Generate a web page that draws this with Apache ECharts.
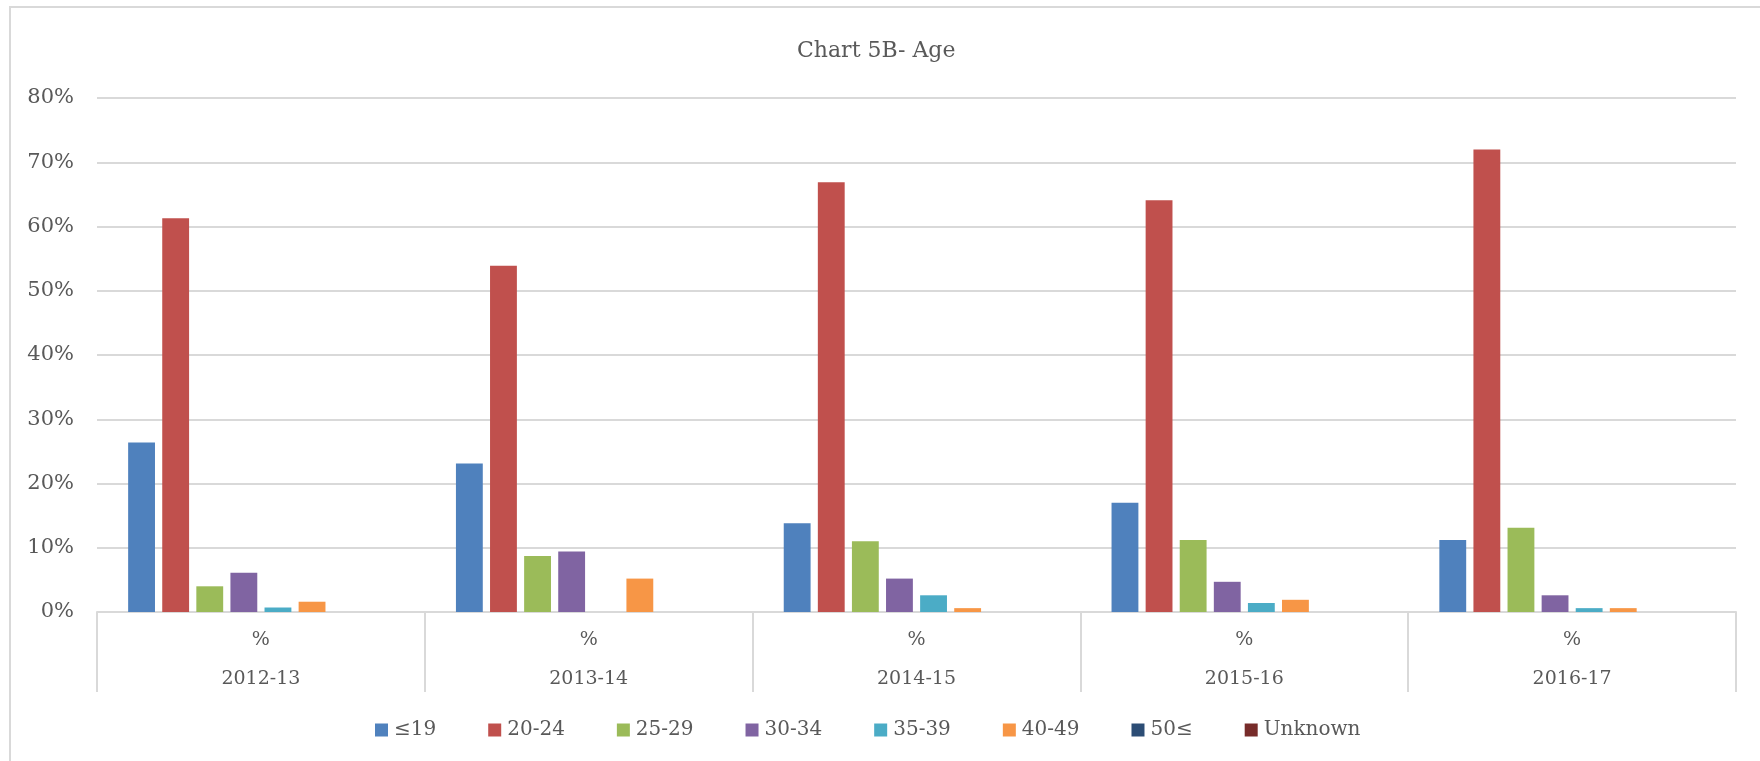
<!DOCTYPE html>
<html>
<head>
<meta charset="utf-8">
<title>Chart 5B- Age</title>
<script src="https://cdn.jsdelivr.net/npm/echarts@6/dist/echarts.min.js"></script>
<style>
    html, body { margin: 0; padding: 0; background: #fff; }
    #chart { width: 1760px; height: 761px; }
</style>
</head>
<body>
<div id="chart"></div>
<script>
// categories (academic years) and age groups
var years = ['2012-13', '2013-14', '2014-15', '2015-16', '2016-17'];
var groups = ['≤19', '20-24', '25-29', '30-34', '35-39', '40-49', '50≤', 'Unknown'];
var yTicks = ['0%', '10%', '20%', '30%', '40%', '50%', '60%', '70%', '80%'];

// percentages per age group, one value per year
var under19  = [26.4, 23.1, 13.8, 17.0, 11.2];
var age20_24 = [61.3, 53.9, 66.9, 64.1, 72.0];
var age25_29 = [4.0, 8.7, 11.0, 11.2, 13.1];
var age30_34 = [6.1, 9.4, 5.2, 4.7, 2.6];
var age35_39 = [0.7, 0, 2.6, 1.4, 0.6];
var age40_49 = [1.6, 5.2, 0.6, 1.9, 0.6];
var over50   = [0, 0, 0, 0, 0];
var unknown  = [0, 0, 0, 0, 0];

var groupData = [under19, age20_24, age25_29, age30_34, age35_39, age40_49, over50, unknown];
var colors = ['#4F81BD', '#C0504D', '#9BBB59', '#8064A2', '#4BACC6', '#F79646', '#2C4D75', '#772C2A'];

var font = '"DejaVu Serif", "Liberation Serif", serif';
var gridColor = '#d9d9d9';
var textColor = '#595959';

var chart = echarts.init(document.getElementById('chart'));

var series = groups.map(function (name, i) {
    return {
        name: name,
        type: 'bar',
        barGap: '27%',
        barCategoryGap: '19%',
        itemStyle: { color: colors[i] },
        data: groupData[i]
    };
});

chart.setOption({
    animation: false,
    color: colors,
    textStyle: { fontFamily: font },
    title: {
        text: 'Chart 5B- Age',
        left: 792,
        top: 35,
        textStyle: { fontFamily: font, fontSize: 22, fontWeight: 'normal', color: textColor }
    },
    legend: {
        top: 715,
        left: 370,
        itemWidth: 13,
        itemHeight: 13,
        itemGap: 52,
        icon: 'rect',
        data: groups,
        textStyle: { fontFamily: font, fontSize: 20, color: textColor, padding: [0, 0, 0, 1] }
    },
    grid: { left: 97, right: 24, top: 98, bottom: 149 },
    xAxis: {
        type: 'category',
        data: years,
        axisLine: { lineStyle: { color: gridColor, width: 2 } },
        axisTick: { show: true, interval: 0, length: 80, lineStyle: { color: gridColor, width: 2 } },
        axisLabel: {
            show: true,
            interval: 0,
            margin: 9,
            fontFamily: font,
            fontSize: 19,
            color: textColor,
            lineHeight: 39,
            formatter: function (v) { return '%\n' + v; }
        }
    },
    yAxis: {
        type: 'value',
        min: 0,
        max: 80,
        interval: 10,
        axisLine: { show: false },
        axisTick: { show: false },
        splitLine: { lineStyle: { color: gridColor, width: 2 } },
        axisLabel: {
            margin: 23,
            fontFamily: font,
            fontSize: 21,
            color: textColor,
            formatter: function (v) { return yTicks[Math.round(v / 10)]; }
        }
    },
    graphic: [{
        type: 'rect',
        shape: { x: 10, y: 7, width: 1770, height: 800 },
        style: { fill: 'none', stroke: '#d9d9d9', lineWidth: 2 },
        silent: true
    }],
    series: series
});
</script>
</body>
</html>
